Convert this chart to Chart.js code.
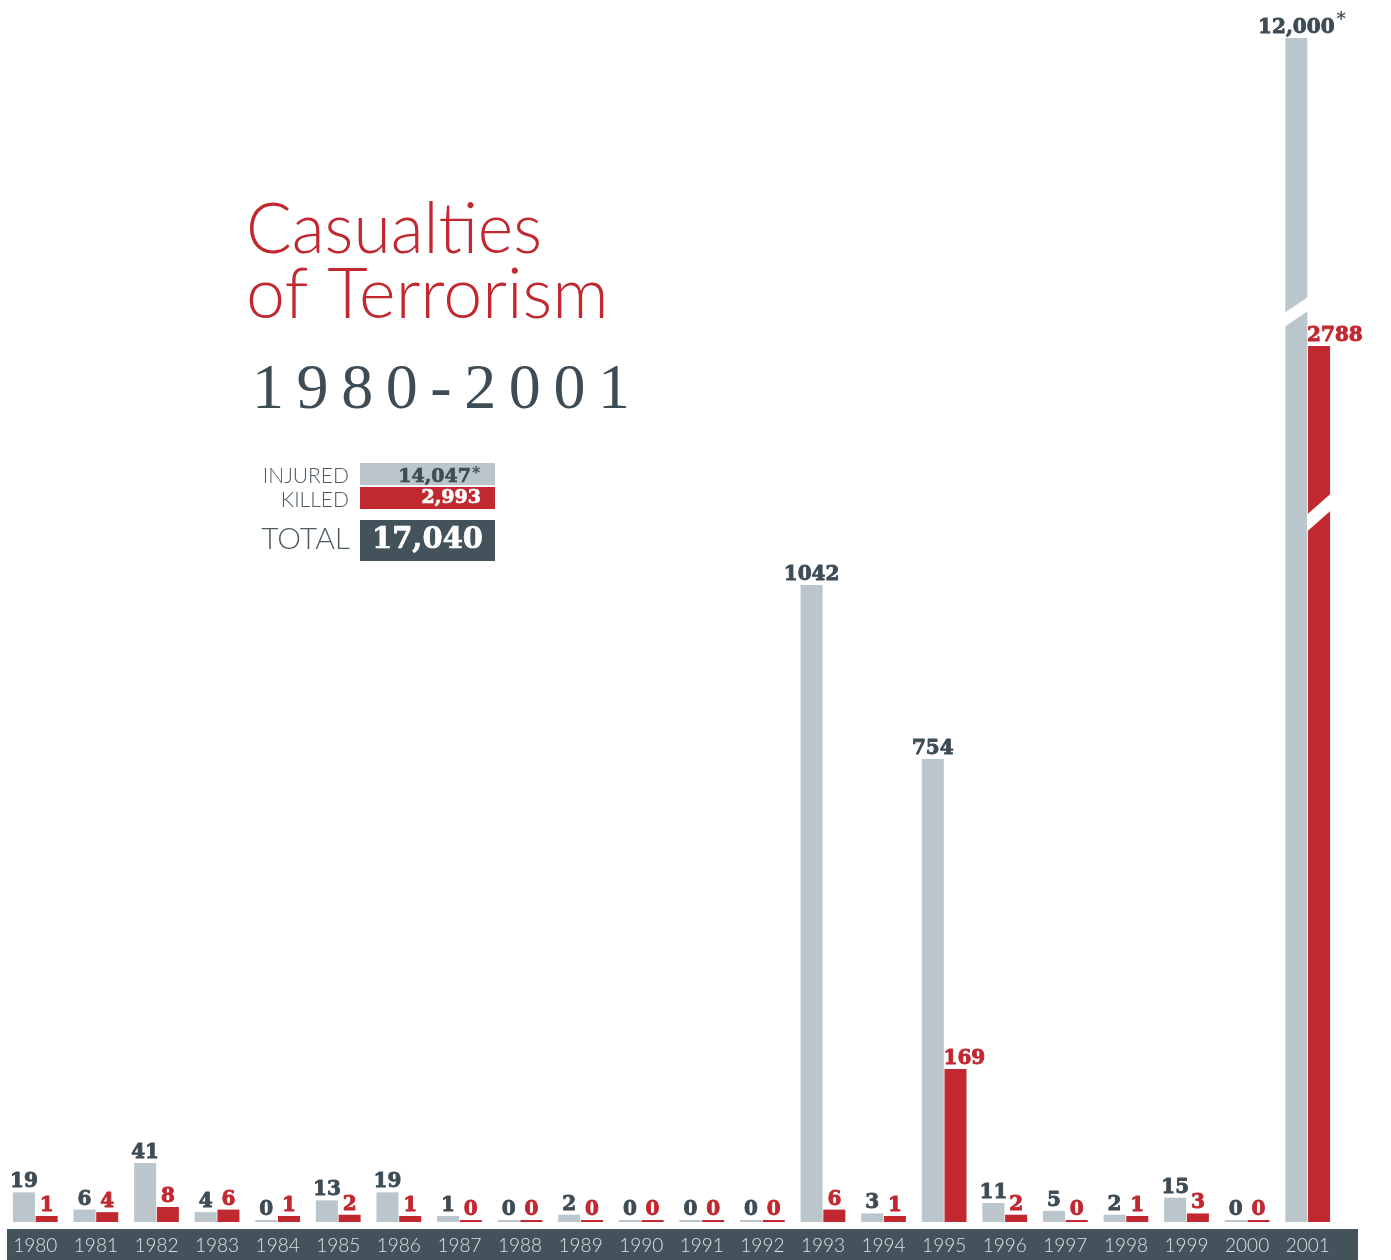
<!DOCTYPE html>
<html>
<head>
<meta charset="utf-8">
<script src="https://cdn.jsdelivr.net/npm/chart.js@4.4.1/dist/chart.umd.min.js"></script>
<style>
  html, body { margin: 0; padding: 0; background: #ffffff; }
  #wrap { position: relative; width: 1391px; height: 1260px; }
  canvas { display: block; }
</style>
</head>
<body>
<div id="wrap"><canvas id="c" width="1391" height="1260"></canvas></div>
<script>
// ---------------- data ----------------
const years = ['1980','1981','1982','1983','1984','1985','1986','1987','1988','1989','1990',
               '1991','1992','1993','1994','1995','1996','1997','1998','1999','2000','2001'];
const injured = [19, 6, 41, 4, 0, 13, 19, 1, 0, 2, 0, 0, 0, 1042, 3, 754, 11, 5, 2, 15, 0, 12000];
const killed  = [1, 4, 8, 6, 1, 2, 1, 0, 0, 0, 0, 0, 0, 6, 1, 169, 2, 0, 1, 3, 0, 2788];
const estimatedInjuredYears = ['2001'];           // values marked with *
const brokenBarYears = ['2001'];                  // bars drawn with a scale break
const titleLines = ['Casualties', 'of Terrorism', '1980-2001'];
const legendLabels = ['INJURED', 'KILLED', 'TOTAL'];
const legendValues = ['14,047', '2,993', '17,040'];

// non-linear (broken) value axis: value -> fraction of plot height
const scaleKnotValues    = [0, 1, 8, 41, 169, 754, 1042, 2788, 12000];
const scaleKnotFractions = [0, 6/1184, 15/1184, 59/1184, 153/1184, 463/1184, 637/1184, 876/1184, 1];

// ---------------- colours ----------------
const GRAY = '#bbc6cc', RED = '#c1282f', SLATE = '#43525b', LABEL_SLATE = '#3e4c55';

function toFraction(v) {
  if (v <= scaleKnotValues[0]) return 0;
  for (let i = 1; i < scaleKnotValues.length; i++) {
    if (v <= scaleKnotValues[i]) {
      const a = scaleKnotValues[i-1], b = scaleKnotValues[i];
      const fa = scaleKnotFractions[i-1], fb = scaleKnotFractions[i];
      return fa + (v - a) / (b - a) * (fb - fa);
    }
  }
  return 1;
}
function fromFraction(f) {
  for (let i = 1; i < scaleKnotFractions.length; i++) {
    if (f <= scaleKnotFractions[i]) {
      const a = scaleKnotFractions[i-1], b = scaleKnotFractions[i];
      return scaleKnotValues[i-1] + (f - a) / (b - a) * (scaleKnotValues[i] - scaleKnotValues[i-1]);
    }
  }
  return scaleKnotValues[scaleKnotValues.length-1];
}

class CasualtyScale extends Chart.LinearScale {
  getPixelForValue(value) {
    if (value === null || value === undefined || isNaN(value)) return NaN;
    return this.getPixelForDecimal(toFraction(value));
  }
  getValueForPixel(pixel) {
    return fromFraction(this.getDecimalForPixel(pixel));
  }
}
CasualtyScale.id = 'casualty';
CasualtyScale.defaults = Chart.LinearScale.defaults;
Chart.register(CasualtyScale);

const VALUE_FONT = 'bold 20px "DejaVu Serif", "Liberation Serif", serif';

// dark band behind the year labels
const bandPlugin = {
  id: 'band',
  beforeDraw(chart) {
    const ctx = chart.ctx, a = chart.chartArea;
    ctx.save();
    ctx.fillStyle = SLATE;
    ctx.fillRect(7, a.bottom + 7, 1351, chart.height - a.bottom - 7);
    ctx.restore();
  }
};

// white diagonal gaps marking the scale break
const breakPlugin = {
  id: 'breaks',
  afterDatasetsDraw(chart) {
    const ctx = chart.ctx;
    const idx = years.indexOf(brokenBarYears[0]);
    if (idx < 0) return;
    const specs = [
      { ds: 0, yLeft: 320, rise: 17, gap: 14 },
      { ds: 1, yLeft: 523, rise: 22, gap: 17 }
    ];
    ctx.save();
    ctx.fillStyle = '#ffffff';
    specs.forEach(s => {
      const bar = chart.getDatasetMeta(s.ds).data[idx];
      const L = bar.x - bar.width/2 - 1, R = bar.x + bar.width/2 + 2;
      const y0 = s.yLeft;
      ctx.beginPath();
      ctx.moveTo(L, y0 - s.gap/2);
      ctx.lineTo(R, y0 - s.gap/2 - s.rise);
      ctx.lineTo(R, y0 + s.gap/2 - s.rise);
      ctx.lineTo(L, y0 + s.gap/2);
      ctx.closePath();
      ctx.fill();
    });
    ctx.restore();
  }
};

// value labels above bars
const valueLabelPlugin = {
  id: 'valueLabels',
  afterDatasetsDraw(chart) {
    const ctx = chart.ctx;
    ctx.save();
    ctx.font = VALUE_FONT;
    ctx.textBaseline = 'alphabetic';
    ctx.textAlign = 'left';
    ctx.lineWidth = 0.9;
    ctx.lineJoin = 'round';
    const gray = chart.getDatasetMeta(0).data;
    const red = chart.getDatasetMeta(1).data;
    [0, 1].forEach(d => {
      const vals = d === 0 ? injured : killed;
      const meta = d === 0 ? gray : red;
      meta.forEach((bar, i) => {
        const v = vals[i];
        const txt = v >= 10000 ? v.toLocaleString('en-US') : String(v);
        const w = ctx.measureText(txt).width;
        const base = bar.y - 5;
        let x = bar.x - w/2;
        if (d === 1) {
          const nb = gray[i];
          if (nb.y < base - 12) x = Math.max(x, bar.x - bar.width/2 - 1);
        }
        ctx.fillStyle = d === 0 ? LABEL_SLATE : RED;
        ctx.strokeStyle = ctx.fillStyle;
        ctx.fillText(txt, x, base);
        ctx.strokeText(txt, x, base);
        if (d === 0 && estimatedInjuredYears.includes(years[i])) {
          ctx.font = 'bold 18px "DejaVu Serif", serif';
          ctx.fillText('*', x + w + 2, base - 8);
          ctx.font = VALUE_FONT;
        }
      });
    });
    ctx.restore();
  }
};

// title block and summary legend
const titlePlugin = {
  id: 'titleBlock',
  afterDraw(chart) {
    const ctx = chart.ctx;
    ctx.save();
    ctx.textBaseline = 'alphabetic';
    // title
    ctx.fillStyle = RED;
    ctx.font = '300 70px Lato, "Open Sans", sans-serif';
    ctx.textAlign = 'left';
    ctx.fillText(titleLines[0], 246, 253, 296);
    ctx.fillText(titleLines[1], 246, 318, 368);
    // year range, spaced
    ctx.fillStyle = LABEL_SLATE;
    ctx.font = '64px "Liberation Serif", "DejaVu Serif", serif';
    const chars = titleLines[2].split('');
    const natural = chars.reduce((s, c) => s + ctx.measureText(c).width, 0);
    const spacing = (378 - natural) / (chars.length - 1);
    let x = 252;
    chars.forEach(c => { ctx.fillText(c, x, 408); x += ctx.measureText(c).width + spacing; });
    // legend labels
    ctx.textAlign = 'right';
    ctx.fillStyle = '#4d5b63';
    ctx.font = '300 21px Lato, "Open Sans", sans-serif';
    ctx.fillText(legendLabels[0], 349, 483);
    ctx.fillText(legendLabels[1], 349, 507);
    ctx.font = '300 30px Lato, "Open Sans", sans-serif';
    ctx.fillText(legendLabels[2], 350, 549);
    // legend boxes
    ctx.fillStyle = GRAY;  ctx.fillRect(360, 463, 135, 22);
    ctx.fillStyle = RED;   ctx.fillRect(360, 487, 135, 22);
    ctx.fillStyle = SLATE; ctx.fillRect(360, 520, 135, 41);
    ctx.lineWidth = 0.7;
    ctx.font = 'bold 19px "DejaVu Serif", serif';
    ctx.fillStyle = ctx.strokeStyle = LABEL_SLATE;
    ctx.fillText(legendValues[0], 471, 482);
    ctx.strokeText(legendValues[0], 471, 482);
    ctx.textAlign = 'left';
    ctx.font = 'bold 16px "DejaVu Serif", serif';
    ctx.fillText('*', 472, 478);
    ctx.textAlign = 'right';
    ctx.font = 'bold 19px "DejaVu Serif", serif';
    ctx.fillStyle = ctx.strokeStyle = '#ffffff';
    ctx.fillText(legendValues[1], 481, 503);
    ctx.strokeText(legendValues[1], 481, 503);
    ctx.font = 'bold 29px "DejaVu Serif", serif';
    ctx.fillText(legendValues[2], 483, 548);
    ctx.strokeText(legendValues[2], 483, 548);
    ctx.restore();
  }
};

new Chart(document.getElementById('c'), {
  type: 'bar',
  data: {
    labels: years,
    datasets: [
      { label: 'Injured', data: injured, backgroundColor: GRAY, borderWidth: 0, minBarLength: 2,
        barPercentage: 0.97, categoryPercentage: 0.75 },
      { label: 'Killed', data: killed, backgroundColor: RED, borderWidth: 0, minBarLength: 2,
        barPercentage: 0.97, categoryPercentage: 0.75 }
    ]
  },
  options: {
    responsive: false,
    animation: false,
    devicePixelRatio: 1,
    layout: { padding: { left: 5, right: 53, top: 38, bottom: 0 } },
    plugins: { legend: { display: false }, tooltip: { enabled: false }, title: { display: false } },
    scales: {
      x: {
        grid: { display: false, drawTicks: false },
        border: { display: false },
        ticks: { color: '#dde2e5', font: { family: 'Lato', size: 19, weight: '300' },
                 padding: 12, maxRotation: 0, autoSkip: false },
        afterFit(scale) { scale.height = 38; }
      },
      y: { type: 'casualty', display: false, min: 0, max: 12000 }
    }
  },
  plugins: [bandPlugin, breakPlugin, valueLabelPlugin, titlePlugin]
});
</script>
</body>
</html>
